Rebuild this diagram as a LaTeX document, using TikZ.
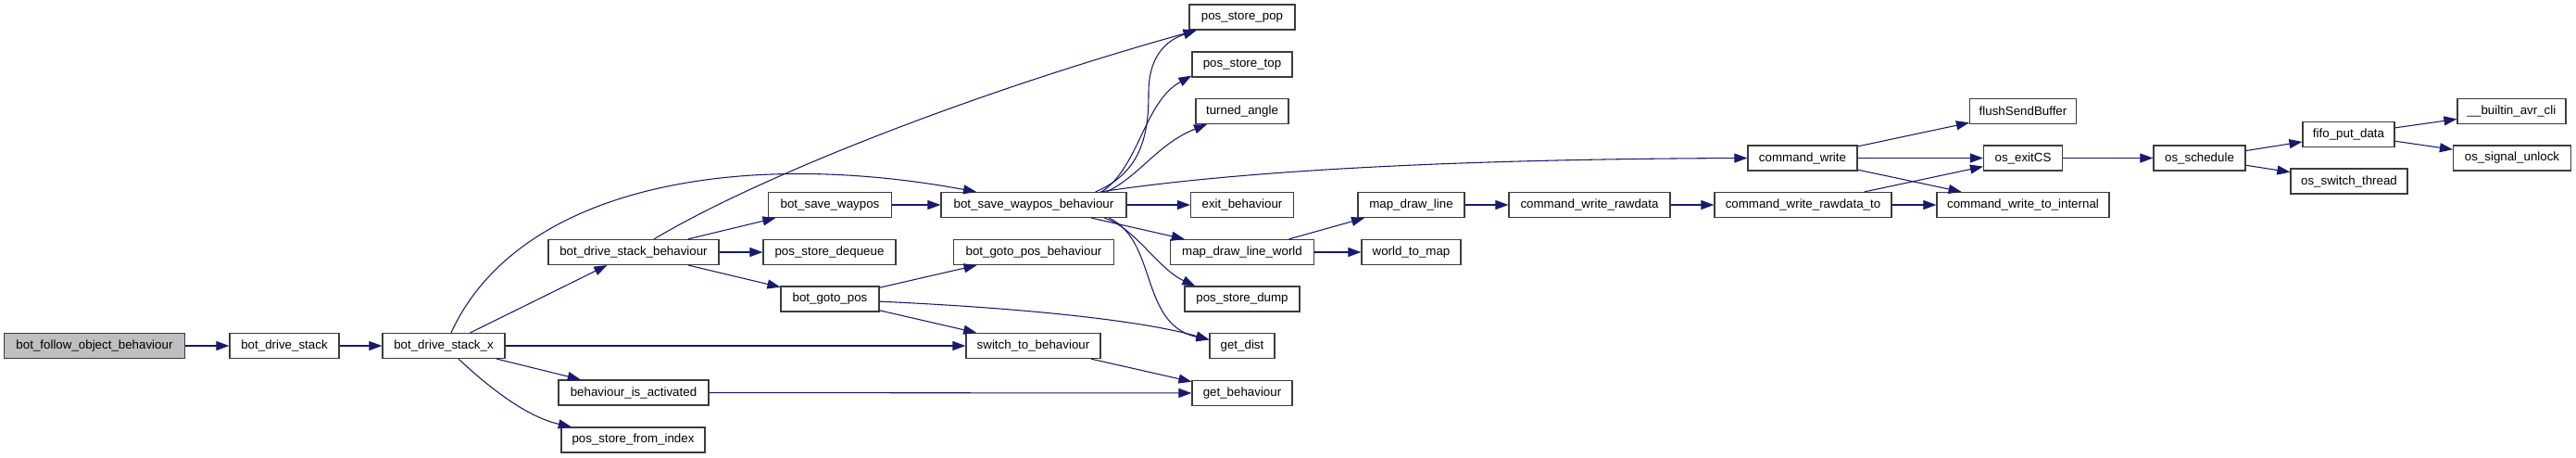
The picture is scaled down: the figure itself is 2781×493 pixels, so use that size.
\documentclass[tikz,border=0pt]{standalone}
\usepackage{fontspec}
\setmainfont{Liberation Sans}
\usetikzlibrary{arrows.meta}
\definecolor{edgeblue}{RGB}{25,25,112}
\definecolor{boxline}{RGB}{60,60,60}
\definecolor{rootfill}{RGB}{191,191,191}
\tikzset{
  fn/.style={
    rectangle, draw=boxline, fill=white, line width=0.9pt,
    minimum height=20.25pt, inner sep=1pt,
    font=\fontsize{10}{12}\selectfont,
  },
  root/.style={fn, fill=rootfill},
  call/.style={
    -{Triangle[length=10.5pt,width=7.5pt]}, line width=0.8pt, draw=edgeblue,
  }
}

\begin{document}
\begin{tikzpicture}[x=0.75pt,y=-0.75pt]
  \useasboundingbox (0,0) rectangle (2781,493);

  % rank 0 to 2
  \node[root, minimum width=146.25pt] (bfob) at (102,373) {bot\_follow\_object\_behaviour};
  \node[fn, minimum width=88.5pt] (bds) at (307,373) {bot\_drive\_stack};
  \node[fn, minimum width=99pt] (bdsx) at (479,373) {bot\_drive\_stack\_x};

  % rank 3
  \node[fn, minimum width=138pt] (bdsb) at (684,272) {bot\_drive\_stack\_behaviour};
  \node[fn, minimum width=121.5pt] (bia) at (684,423.5) {behaviour\_is\_activated};
  \node[fn, minimum width=116.25pt] (psfi) at (683.5,474.5) {pos\_store\_from\_index};

  % rank 4
  \node[fn, minimum width=99.75pt] (bsw) at (896,221) {bot\_save\_waypos};
  \node[fn, minimum width=107.25pt] (psdq) at (895.5,272) {pos\_store\_dequeue};
  \node[fn, minimum width=79.5pt] (bgp) at (896,322.5) {bot\_goto\_pos};

  % rank 5
  \node[fn, minimum width=150pt] (bswb) at (1116,221) {bot\_save\_waypos\_behaviour};
  \node[fn, minimum width=129.75pt] (bgpb) at (1116,272) {bot\_goto\_pos\_behaviour};
  \node[fn, minimum width=108.75pt] (stb) at (1115.5,373) {switch\_to\_behaviour};

  % rank 6
  \node[fn, minimum width=85.5pt] (psp) at (1341,18.5) {pos\_store\_pop};
  \node[fn, minimum width=81pt] (pst) at (1341,69.5) {pos\_store\_top};
  \node[fn, minimum width=75pt] (ta) at (1341,120) {turned\_angle};
  \node[fn, minimum width=83.25pt] (eb) at (1341,221) {exit\_behaviour};
  \node[fn, minimum width=116.25pt] (mdlw) at (1341,272) {map\_draw\_line\_world};
  \node[fn, minimum width=93pt] (psdump) at (1341,322.5) {pos\_store\_dump};
  \node[fn, minimum width=52.5pt] (gd) at (1341,373) {get\_dist};
  \node[fn, minimum width=81pt] (gb) at (1341,424) {get\_behaviour};

  % rank 7 to 9
  \node[fn, minimum width=86.25pt] (mdl) at (1523.5,221) {map\_draw\_line};
  \node[fn, minimum width=80.25pt] (wtm) at (1523.5,272) {world\_to\_map};
  \node[fn, minimum width=130.5pt] (cwr) at (1716,221) {command\_write\_rawdata};
  \node[fn, minimum width=88.5pt] (cw) at (1946,170.5) {command\_write};
  \node[fn, minimum width=143.25pt] (cwrt) at (1946.5,221) {command\_write\_rawdata\_to};

  % rank 10 to 13
  \node[fn, minimum width=86.25pt] (fsb) at (2184,120) {flushSendBuffer};
  \node[fn, minimum width=63.75pt] (oec) at (2184,170.5) {os\_exitCS};
  \node[fn, minimum width=139.5pt] (cwti) at (2184,221) {command\_write\_to\_internal};
  \node[fn, minimum width=74.25pt] (osch) at (2374.5,170.5) {os\_schedule};
  \node[fn, minimum width=74.25pt] (fpd) at (2535.5,145) {fifo\_put\_data};
  \node[fn, minimum width=94.5pt] (ost) at (2536,195.5) {os\_switch\_thread};
  \node[fn, minimum width=87.75pt] (bac) at (2711.5,120) {\_\_builtin\_avr\_cli};
  \node[fn, minimum width=95.25pt] (osu) at (2712,170.5) {os\_signal\_unlock};

  % calls
  \draw[call] (bfob) -- (bds);
  \draw[call] (bds) -- (bdsx);
  \draw[call] (bdsx) -- (bdsb);
  \draw[call] ([xshift=6pt]bdsx.north) .. controls (560,200) and (800,160) .. ([xshift=-46.5pt]bswb.north);
  \draw[call] (bdsx) -- (stb);
  \draw[call] (bdsx) -- (bia);
  \draw[call] ([xshift=12pt]bdsx.south) .. controls (530,420) and (570,450) .. ([xshift=-50pt]psfi.north);
  \draw[call] ([xshift=16.5pt]bdsb.north) .. controls (820,190) and (1050,100) .. ([xshift=-37pt]psp.south);
  \draw[call] (bdsb) -- (bsw);
  \draw[call] (bdsb) -- (psdq);
  \draw[call] (bdsb) -- (bgp);
  \draw[call] (bsw) -- (bswb);
  \draw[call] (bgp) -- (bgpb);
  \draw[call] ([yshift=-2pt]bgp.east) .. controls (1100,332) and (1230,345) .. ([yshift=5pt]gd.west);
  \draw[call] (bgp) -- (stb);
  \draw[call] (stb) -- (gb);
  \draw[call] (bia) -- (gb);
  \draw[call] ([xshift=50pt]bswb.north) .. controls (1235,185) and (1240,140) .. (1240,100)
    .. controls (1240,65) and (1255,45) .. ([xshift=-37pt]psp.south);
  \draw[call] ([xshift=55pt]bswb.north) .. controls (1230,180) and (1235,110) .. ([yshift=1.5pt]pst.south west);
  \draw[call] ([xshift=59pt]bswb.north) .. controls (1230,190) and (1250,155) .. ([xshift=-28.5pt]ta.south);
  \draw[call] ([xshift=54pt]bswb.north) .. controls (1300,190) and (1500,172) .. (cw.west);
  \draw[call] (bswb) -- (eb);
  \draw[call] (bswb) -- (mdlw);
  \draw[call] ([xshift=57pt]bswb.south) .. controls (1225,245) and (1250,290) .. ([xshift=-38pt]psdump.north);
  \draw[call] ([xshift=61pt]bswb.south) .. controls (1250,260) and (1230,350) .. ([yshift=5pt]gd.west);
  \draw[call] (mdlw) -- (mdl);
  \draw[call] (mdlw) -- (wtm);
  \draw[call] (mdl) -- (cwr);
  \draw[call] (cwr) -- (cwrt);
  \draw[call] (cwrt) -- (oec);
  \draw[call] (cwrt) -- (cwti);
  \draw[call] (cw) -- (fsb);
  \draw[call] (cw) -- (oec);
  \draw[call] (cw) -- (cwti);
  \draw[call] (oec) -- (osch);
  \draw[call] (osch) -- (fpd);
  \draw[call] (osch) -- (ost);
  \draw[call] (fpd) -- (bac);
  \draw[call] (fpd) -- (osu);

\end{tikzpicture}
\end{document}
